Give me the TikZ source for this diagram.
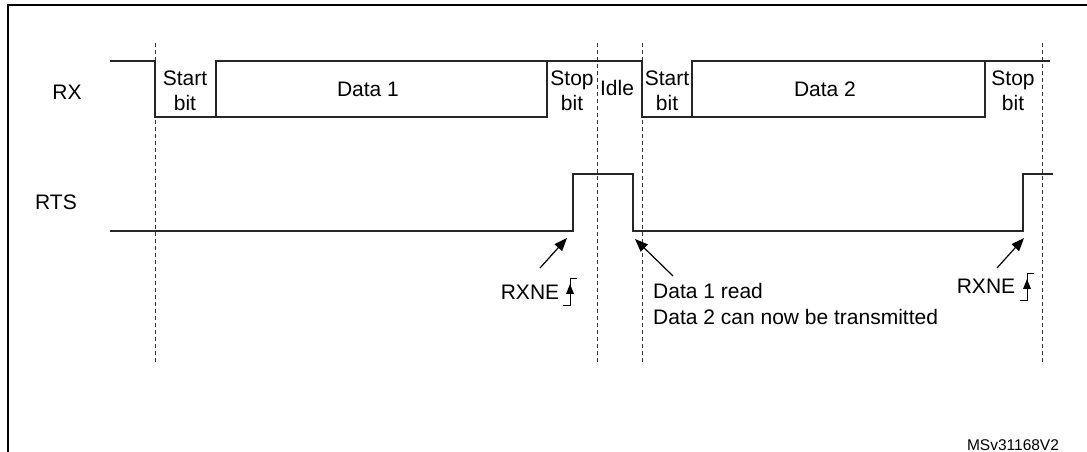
\documentclass[tikz,border=0pt]{standalone}
\usepackage{fontspec}
\setmainfont{Liberation Sans}
\usetikzlibrary{arrows.meta}
\begin{document}
\begin{tikzpicture}[x=1bp,y=-1bp,
  wave/.style={line width=1.4bp, draw=black!85},
  guide/.style={line width=1bp, dash pattern=on 4bp off 3bp, draw=black!80},
  frame/.style={line width=2bp, draw=black},
  lbl/.style={font=\fontsize{21bp}{25bp}\selectfont, inner sep=0pt, align=center},
  note/.style={font=\fontsize{21bp}{26bp}\selectfont, inner sep=0pt, align=left},
  ptr/.style={line width=1.2bp, -{Triangle[length=13bp,width=10bp]}},
  edge/.style={line width=1bp}
]
\useasboundingbox (0,0) rectangle (1087,452);
% frame
\draw[frame] (8,452) -- (8,5) -- (1087,5);
% guides
\foreach \gx in {155,597,642,1042}{
  \draw[guide] (\gx,43) -- (\gx,363);
}
% RX waveform
\draw[wave] (110,61) -| (155,117) -- (216,117);
\draw[wave] (216,61) rectangle (547,117);
\draw[wave] (547,61) -- (642,61) -- (642,117) -- (692,117);
\draw[wave] (692,61) rectangle (985,117);
\draw[wave] (985,61) -- (1050,61);
% RTS waveform
\draw[wave] (110,231) -- (573,231) -- (573,174) -- (633,174) -- (633,231) -- (1023,231) -- (1023,174) -- (1053,174);
% labels
\node[lbl] (rx) at (67,92) {RX};
\node[lbl] (rts) at (56,202) {RTS};
\node[lbl] (sb1) at (185,90.5) {Start\\bit};
\node[lbl] (d1) at (368,89) {Data 1};
\node[lbl] (pb1) at (572,90.5) {Stop\\bit};
\node[lbl] (idle) at (617,88) {Idle};
\node[lbl] (sb2) at (667,90.5) {Start\\bit};
\node[lbl] (d2) at (825,89) {Data 2};
\node[lbl] (pb2) at (1013,90.5) {Stop\\bit};
% annotations
\node[lbl] (rxne1) at (530,292) {RXNE};
\coordinate (t1) at (540,268);
\coordinate (h1) at (567,238);
\draw[ptr] (t1) -- (h1);
\draw[edge] (563,306) -- (570,306) -- (570,279) -- (577,279);
\fill (570,284) -- (566,294) -- (574,294) -- cycle;

\node[note, anchor=base west] (read) at (653,325) {Data 1 read\\Data 2 can now be transmitted};
\coordinate (t2) at (673,276);
\coordinate (h2) at (635,239);
\draw[ptr] (t2) -- (h2);

\node[lbl] (rxne2) at (986,286) {RXNE};
\coordinate (t3) at (997,268);
\coordinate (h3) at (1024,238);
\draw[ptr] (t3) -- (h3);
\draw[edge] (1020,301) -- (1027,301) -- (1027,274) -- (1034,274);
\fill (1027,279) -- (1023,289) -- (1031,289) -- cycle;

\node[lbl, font=\fontsize{15.5bp}{18bp}\selectfont] (ref) at (1013,445) {MSv31168V2};
\end{tikzpicture}
\end{document}
